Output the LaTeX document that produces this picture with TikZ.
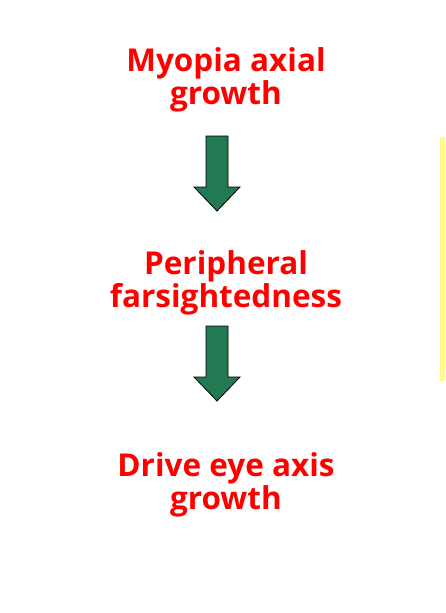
\documentclass[tikz,border=0pt]{standalone}
\usepackage{fontspec}
\setmainfont{Open Sans}
\definecolor{txtred}{RGB}{255,0,0}
\definecolor{arrgreen}{RGB}{33,122,82}
\definecolor{stripyellow}{RGB}{255,250,140}
\begin{document}
\begin{tikzpicture}[x=1pt,y=-1pt,
  lbl/.style={text=txtred,font=\bfseries\fontsize{31.5}{33}\selectfont,align=center,inner sep=0pt},
  bigarrow/.style={draw=black,fill=arrgreen,line width=0.8pt,line join=miter}]
\fill[white] (0,0) rectangle (445,613);
\useasboundingbox (0,0) rectangle (445,613);
\fill[stripyellow] (440,137) rectangle (445,381);
\node[lbl] (a) at (226,80) {Myopia axial\\growth};
\node[lbl] (b) at (226,283) {Peripheral\\farsightedness};
\node[lbl] (c) at (226,485) {Drive eye axis\\growth};
\draw[bigarrow] (206,136) -- (228,136) -- (228,187) -- (240,187) -- (217,211) -- (194,187) -- (206,187) -- cycle;
\draw[bigarrow] (206,326) -- (228,326) -- (228,377) -- (240,377) -- (217,401) -- (194,377) -- (206,377) -- cycle;
\end{tikzpicture}
\end{document}
